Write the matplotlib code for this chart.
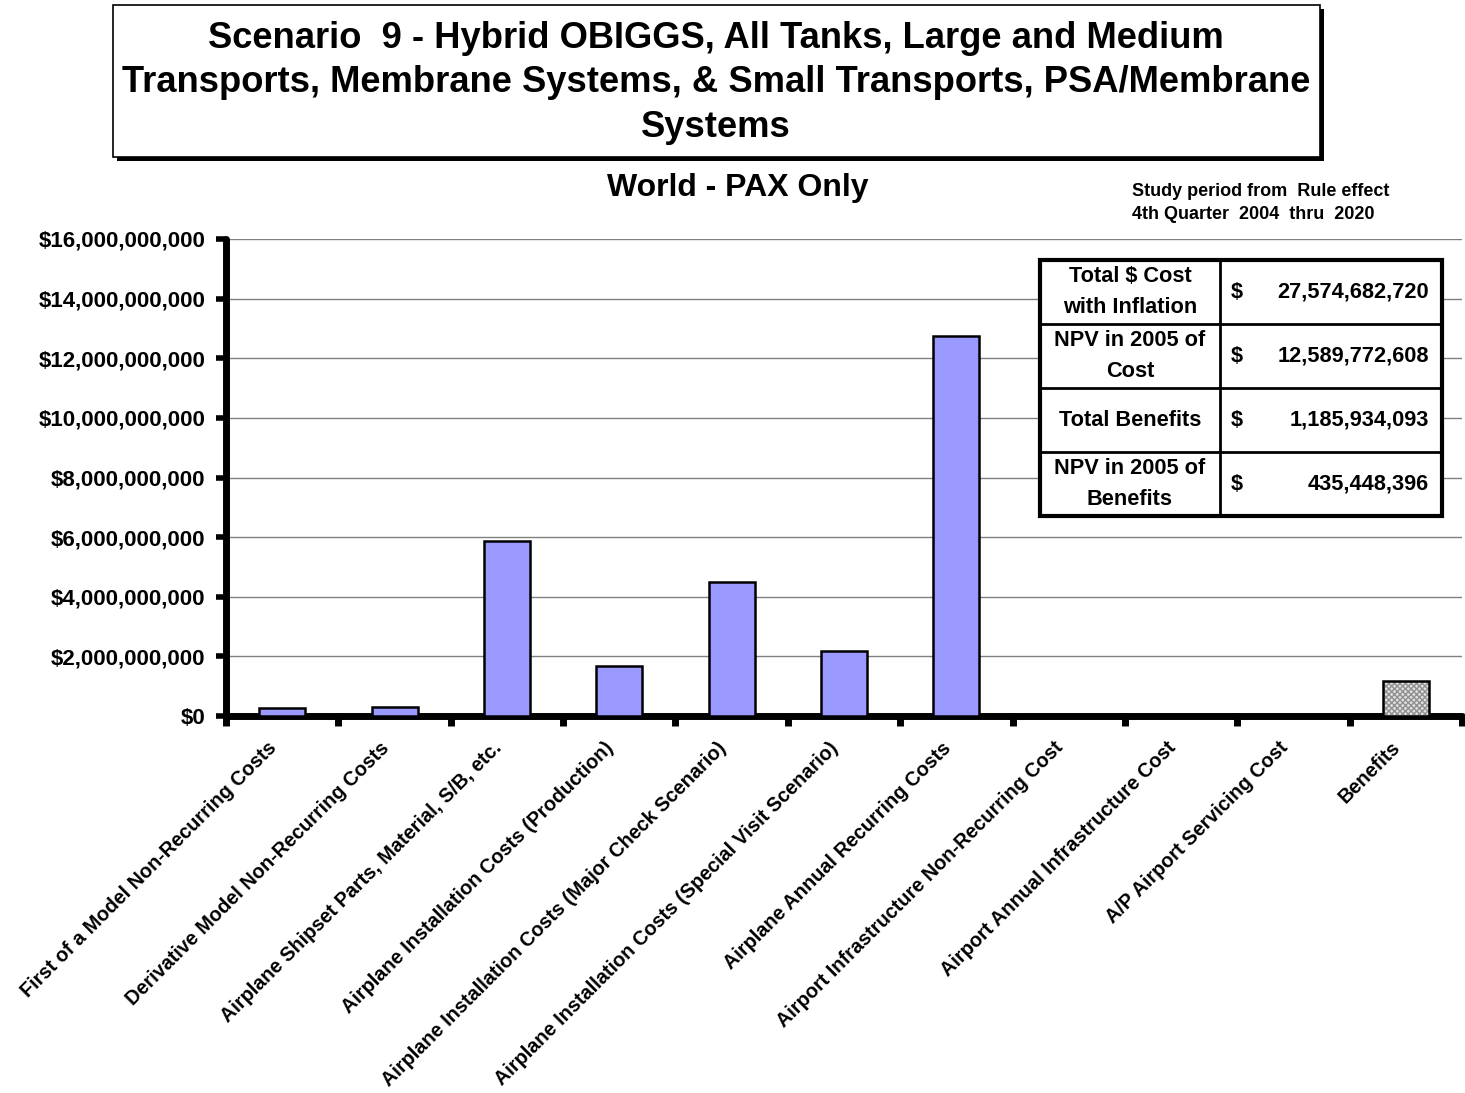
import matplotlib
matplotlib.use("Agg")
import matplotlib.pyplot as plt
from matplotlib.patches import Rectangle
from matplotlib.ticker import FuncFormatter, FixedLocator
from matplotlib.transforms import ScaledTranslation

plt.rcParams['font.family'] = ['Liberation Sans', 'DejaVu Sans']
plt.rcParams['font.weight'] = 'bold'

categories = [
    "First of a Model Non-Recurring Costs",
    "Derivative Model Non-Recurring Costs",
    "Airplane Shipset Parts, Material, S/B, etc.",
    "Airplane Installation Costs (Production)",
    "Airplane Installation Costs (Major Check Scenario)",
    "Airplane Installation Costs (Special Visit Scenario)",
    "Airplane Annual Recurring Costs",
    "Airport Infrastructure Non-Recurring Cost",
    "Airport Annual Infrastructure Cost",
    "A/P Airport Servicing Cost",
    "Benefits",
]
values = [0.27e9, 0.30e9, 5.87e9, 1.68e9, 4.50e9, 2.19e9, 12.76e9, 0, 0, 0, 1.185934093e9]
is_benefit = [False] * 10 + [True]

table_labels = ["Total $ Cost\nwith Inflation", "NPV in 2005 of\nCost", "Total Benefits", "NPV in 2005 of\nBenefits"]
table_values = ["27,574,682,720", "12,589,772,608", "1,185,934,093", "435,448,396"]

title = "Scenario  9 - Hybrid OBIGGS, All Tanks, Large and Medium\nTransports, Membrane Systems, & Small Transports, PSA/Membrane\nSystems"
subtitle = "World - PAX Only"
note = "Study period from  Rule effect\n4th Quarter  2004  thru  2020"

W, H = 1465, 1093
fig = plt.figure(figsize=(W / 100, H / 100), dpi=100)

def fx(px):
    return px / W

def fy(py):
    return 1 - py / H

# Title box with shadow
shadow = Rectangle((fx(117), fy(161)), fx(1324) - fx(117), fy(9) - fy(161),
                   transform=fig.transFigure, facecolor='black', edgecolor='black', lw=0)
box = Rectangle((fx(113), fy(157)), fx(1320) - fx(113), fy(5) - fy(157),
                transform=fig.transFigure, facecolor='white', edgecolor='black', lw=1.2)
fig.patches.extend([shadow, box])
fig.text(fx(716), fy(83), title, ha='center', va='center', fontsize=26.2, fontweight='bold',
         linespacing=1.36)

fig.text(fx(738), fy(188), subtitle, ha='center', va='center', fontsize=23, fontweight='bold')
fig.text(fx(1132), fy(203), note, ha='left', va='center', fontsize=13, fontweight='bold',
         linespacing=1.45)

ax = fig.add_axes([fx(226), fy(716), fx(1462) - fx(226), fy(239) - fy(716)])
n = len(categories)
x = list(range(n))
for i, (v, b) in enumerate(zip(values, is_benefit)):
    if v <= 0:
        continue
    if b:
        ax.bar(i, v, width=0.41, color='#e0e0e0', edgecolor='#909090', hatch='xxxxxx', lw=0, zorder=3)
        ax.bar(i, v, width=0.41, fill=False, edgecolor='black', lw=1.8, zorder=4)
    else:
        ax.bar(i, v, width=0.41, color='#9999FF', edgecolor='black', lw=1.8, zorder=3)

ax.set_xlim(-0.5, n - 0.5)
ax.set_ylim(0, 16e9)
ax.set_yticks([i * 2e9 for i in range(9)])
ax.yaxis.set_major_formatter(FuncFormatter(lambda v, p: "$0" if v == 0 else "${:,.0f}".format(v)))
ax.yaxis.grid(True, color='#808080', lw=1.0, zorder=0)
ax.set_axisbelow(True)

ax.set_xticks(x)
ax.set_xticklabels(categories, rotation=45, ha='right', rotation_mode='anchor',
                   fontsize=14.3, fontweight='bold')
ax.tick_params(axis='x', length=0, pad=16)
shift = ScaledTranslation(-0.15, 0, fig.dpi_scale_trans)
for lbl in ax.get_xticklabels():
    lbl.set_transform(lbl.get_transform() + shift)
ax.xaxis.set_minor_locator(FixedLocator([i - 0.5 for i in range(n + 1)]))
ax.tick_params(axis='x', which='minor', length=7, width=5, color='black', direction='out')
ax.tick_params(axis='y', length=7, width=4, direction='out', labelsize=16, pad=8)
for lbl in ax.get_yticklabels():
    lbl.set_fontweight('bold')

for s in ['top', 'right']:
    ax.spines[s].set_visible(False)
ax.spines['left'].set_linewidth(5)
ax.spines['bottom'].set_linewidth(5)
ax.spines['left'].set_capstyle('round')
ax.spines['bottom'].set_capstyle('round')

# Table
rows_y = [260, 324, 388, 452, 516]
cx0, cx1, cx2 = 1040, 1220, 1442
tbl_bg = Rectangle((fx(cx0), fy(rows_y[-1])), fx(cx2) - fx(cx0), fy(rows_y[0]) - fy(rows_y[-1]),
                   transform=fig.transFigure, facecolor='white', edgecolor='black', lw=3, zorder=10)
fig.patches.append(tbl_bg)
for yy in rows_y[1:-1]:
    fig.add_artist(plt.Line2D([fx(cx0), fx(cx2)], [fy(yy), fy(yy)], transform=fig.transFigure,
                              color='black', lw=2, zorder=11))
fig.add_artist(plt.Line2D([fx(cx1), fx(cx1)], [fy(rows_y[0]), fy(rows_y[-1])], transform=fig.transFigure,
                          color='black', lw=2, zorder=11))
for i, (lab, val) in enumerate(zip(table_labels, table_values)):
    yc = (rows_y[i] + rows_y[i + 1]) / 2
    fig.text(fx((cx0 + cx1) / 2), fy(yc), lab, ha='center', va='center', fontsize=15.7,
             fontweight='bold', linespacing=1.6, zorder=12)
    fig.text(fx(1231), fy(yc), "$", ha='left', va='center', fontsize=15.7, fontweight='bold', zorder=12)
    fig.text(fx(1429), fy(yc), val, ha='right', va='center', fontsize=15.7, fontweight='bold', zorder=12)

fig.savefig("out.png", dpi=100)
